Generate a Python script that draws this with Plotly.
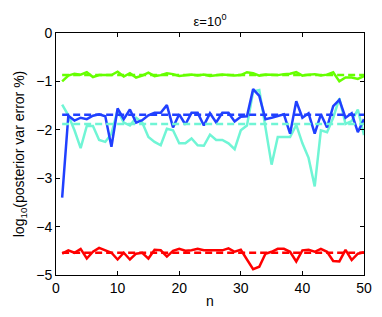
import plotly.graph_objects as go

n = list(range(1, 51))

green = [-1.00, -0.88, -0.84, -0.86, -0.81, -0.91, -0.87, -0.87, -0.87, -0.80,
         -0.90, -0.83, -0.92, -0.88, -0.82, -0.89, -0.87, -0.83, -0.85, -0.89,
         -0.87, -0.86, -0.88, -0.86, -0.89, -0.87, -0.86, -0.87, -0.88, -0.87,
         -0.81, -0.83, -0.88, -0.86, -0.87, -0.87, -0.85, -0.84, -0.81, -0.88,
         -0.86, -0.85, -0.88, -0.86, -0.81, -1.00, -0.92, -0.92, -0.95, -0.89]

blue = [-3.40, -1.71, -1.81, -1.75, -1.78, -1.71, -1.68, -1.72, -2.35, -1.56,
        -1.78, -1.58, -1.85, -1.80, -1.70, -1.65, -1.65, -1.49, -1.95, -1.68,
        -1.89, -1.65, -1.65, -1.91, -1.66, -1.85, -1.65, -1.65, -1.83, -1.73,
        -1.72, -1.16, -1.30, -1.78, -1.75, -1.72, -1.68, -2.08, -1.41, -1.75,
        -1.66, -2.08, -1.68, -1.95, -1.51, -1.38, -1.75, -1.66, -2.05, -1.78]

cyan = [-1.48, -1.70, -2.01, -2.38, -1.92, -1.92, -2.21, -2.25, -2.08, -1.60,
        -1.85, -1.91, -1.75, -1.85, -2.15, -2.25, -2.32, -1.98, -2.01, -2.28,
        -2.28, -2.18, -2.32, -2.33, -2.10, -2.21, -2.21, -2.28, -2.40, -2.01,
        -1.91, -1.21, -1.18, -1.95, -2.72, -2.15, -2.15, -2.15, -1.90, -2.28,
        -2.58, -3.17, -2.01, -2.05, -1.75, -1.35, -1.88, -1.82, -1.58, -2.11]

red = [-4.56, -4.49, -4.54, -4.46, -4.66, -4.52, -4.44, -4.49, -4.54, -4.68,
       -4.54, -4.68, -4.56, -4.54, -4.66, -4.48, -4.49, -4.62, -4.50, -4.46,
       -4.50, -4.49, -4.46, -4.49, -4.49, -4.48, -4.49, -4.45, -4.52, -4.48,
       -4.69, -4.88, -4.83, -4.56, -4.52, -4.46, -4.46, -4.52, -4.72, -4.49,
       -4.48, -4.52, -4.46, -4.52, -4.71, -4.72, -4.48, -4.69, -4.56, -4.53]

mean_levels = {"green": -0.87, "blue": -1.69, "cyan": -1.88, "red": -4.54}

colors = {"green": "#66FF00", "blue": "#2040FF", "cyan": "#70F5D5", "red": "#FF0000"}
series = {"cyan": cyan, "blue": blue, "green": green, "red": red}

x_ticks = [0, 10, 20, 30, 40, 50]
y_ticks = [0, -1, -2, -3, -4, -5]

FONT = "Liberation Sans"

fig = go.Figure()
for name, vals in series.items():
    fig.add_trace(go.Scatter(x=n, y=vals, mode="lines",
                             line=dict(color=colors[name], width=2.5),
                             showlegend=False))
for name in ["cyan", "blue", "green", "red"]:
    fig.add_trace(go.Scatter(x=[n[0], n[-1]], y=[mean_levels[name]] * 2, mode="lines",
                             line=dict(color=colors[name], width=2.5, dash="7px,4px"),
                             showlegend=False))

axis_common = dict(showline=True, linecolor="black", linewidth=1, mirror="ticks",
                   ticks="inside", ticklen=4, tickcolor="black", showgrid=False,
                   zeroline=False, tickfont=dict(family=FONT, size=14, color="black"))

fig.update_layout(
    width=374, height=309,
    margin=dict(l=39, r=10, t=25, b=35),
    plot_bgcolor="white", paper_bgcolor="white",
    title=dict(text="ε=10<sup>0</sup>", x=0.5, xref="paper", xanchor="center",
               y=0.958, yanchor="middle",
               font=dict(family=FONT, size=13, color="black")),
    xaxis=dict(range=[0, 50], tickvals=x_ticks,
               title=dict(text="n", standoff=1,
                          font=dict(family=FONT, size=14, color="black")),
               **axis_common),
    yaxis=dict(range=[-5, 0], tickvals=y_ticks,
               title=dict(text="log<sub>10</sub>(posterior var error %)", standoff=8,
                          font=dict(family=FONT, size=14, color="black")),
               **axis_common),
)

fig.write_html("out.html")
